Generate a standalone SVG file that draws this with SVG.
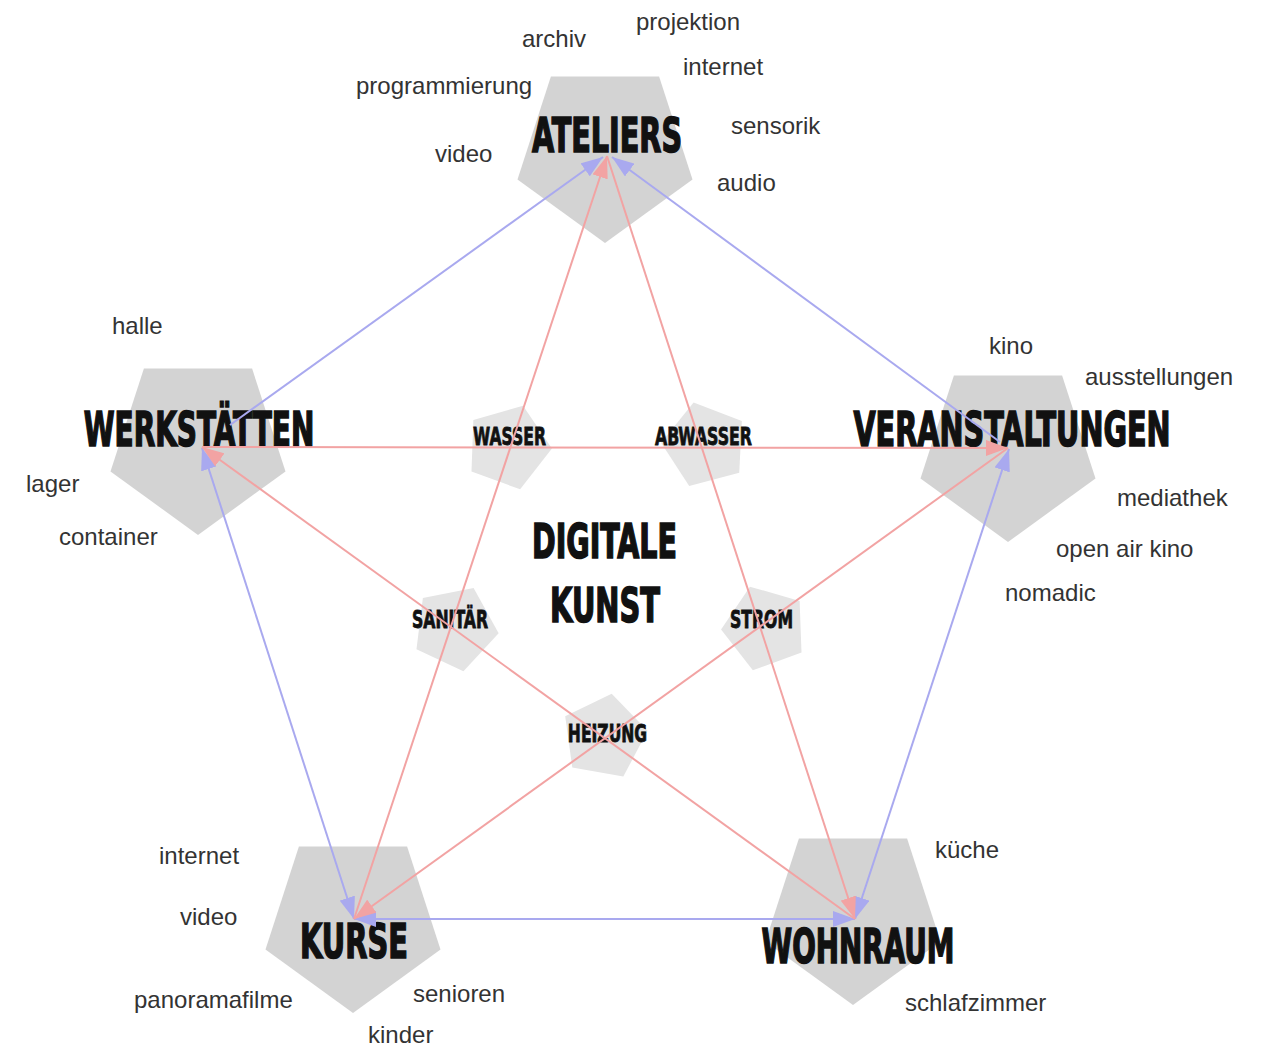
<svg xmlns="http://www.w3.org/2000/svg" width="1261" height="1051" viewBox="0 0 1261 1051">
<defs>
<style>
.big{fill:#d3d3d3}
.small{fill:#e4e4e4}
.h{font-family:"Liberation Sans Narrow","DejaVu Sans Condensed","Liberation Sans",sans-serif;font-weight:bold;fill:#111;stroke:#111;text-anchor:middle}
.h1{font-size:48px;stroke-width:1.6px}
.h2{font-size:25px;stroke-width:0.8px}
.t{font-family:"Liberation Sans","Arial",sans-serif;font-size:24px;fill:#333}
.blue{stroke:#a9a9ef;stroke-width:2;fill:none}
.red{stroke:#f2a3a3;stroke-width:2;fill:none}
</style>
<polygon id="pent" points="0,92 87.5,28.4 54.1,-74.4 -54.1,-74.4 -87.5,28.4"/>
<polygon id="spent" points="0,-44 41.8,-13.6 25.9,35.6 -25.9,35.6 -41.8,-13.6"/>
<marker id="ab" markerUnits="userSpaceOnUse" markerWidth="22" markerHeight="16" refX="22" refY="8" orient="auto-start-reverse"><path d="M0,0 L22,8 L0,16 z" fill="#a9a9ef"/></marker>
<marker id="ar" markerUnits="userSpaceOnUse" markerWidth="22" markerHeight="16" refX="22" refY="8" orient="auto-start-reverse"><path d="M0,0 L22,8 L0,16 z" fill="#f2a3a3"/></marker>
</defs>
<rect width="1261" height="1051" fill="#fff"/>

<g id="node-wasser"><use href="#spent" class="small" transform="translate(508,447) rotate(20)"/><text class="h h2" transform="translate(509.5,445) scale(0.65,1)" textLength="112" lengthAdjust="spacingAndGlyphs">WASSER</text></g>
<g id="node-abwasser"><use href="#spent" class="small" transform="translate(705,445) rotate(-15)"/><text class="h h2" transform="translate(703.5,445) scale(0.65,1)" textLength="149" lengthAdjust="spacingAndGlyphs">ABWASSER</text></g>
<g id="node-sanitaer"><use href="#spent" class="small" transform="translate(455,628) rotate(25)"/><text class="h h2" transform="translate(450,628) scale(0.65,1)" textLength="117" lengthAdjust="spacingAndGlyphs">SANITÄR</text></g>
<g id="node-strom"><use href="#spent" class="small" transform="translate(765,628) rotate(-20)"/><text class="h h2" transform="translate(761.5,628) scale(0.65,1)" textLength="97" lengthAdjust="spacingAndGlyphs">STROM</text></g>
<g id="node-heizung"><use href="#spent" class="small" transform="translate(604,737) rotate(10)"/><text class="h h2" transform="translate(607.5,742) scale(0.65,1)" textLength="122" lengthAdjust="spacingAndGlyphs">HEIZUNG</text></g>

<g id="node-digitale-kunst">
<text class="h h1" transform="translate(604.5,558) scale(0.65,1)" font-size="49" textLength="223" lengthAdjust="spacingAndGlyphs">DIGITALE</text>
<text class="h h1" transform="translate(605,622) scale(0.65,1)" font-size="50" textLength="169" lengthAdjust="spacingAndGlyphs">KUNST</text>
</g>

<g id="node-ateliers">
<use href="#pent" class="big" transform="translate(605,151)"/>
<text class="h h1" transform="translate(607,152) scale(0.65,1)" textLength="231" lengthAdjust="spacingAndGlyphs">ATELIERS</text>
<text class="t" x="522" y="47">archiv</text>
<text class="t" x="636" y="30">projektion</text>
<text class="t" x="683" y="75">internet</text>
<text class="t" x="356" y="94">programmierung</text>
<text class="t" x="731" y="134">sensorik</text>
<text class="t" x="435" y="162">video</text>
<text class="t" x="717" y="191">audio</text>
</g>

<g id="node-werkstaetten">
<use href="#pent" class="big" transform="translate(198,443)"/>
<text class="h h1" transform="translate(199,446) scale(0.65,1)" textLength="355" lengthAdjust="spacingAndGlyphs">WERKSTÄTTEN</text>
<text class="t" x="112" y="334">halle</text>
<text class="t" x="26" y="492">lager</text>
<text class="t" x="59" y="545">container</text>
</g>

<g id="node-veranstaltungen">
<use href="#pent" class="big" transform="translate(1008,450)"/>
<text class="h h1" transform="translate(1012,446) scale(0.65,1)" textLength="488" lengthAdjust="spacingAndGlyphs">VERANSTALTUNGEN</text>
<text class="t" x="989" y="354">kino</text>
<text class="t" x="1085" y="385">ausstellungen</text>
<text class="t" x="1117" y="506">mediathek</text>
<text class="t" x="1056" y="557">open air kino</text>
<text class="t" x="1005" y="601">nomadic</text>
</g>

<g id="node-kurse">
<use href="#pent" class="big" transform="translate(353,921)"/>
<text class="h h1" transform="translate(354,958) scale(0.65,1)" font-size="49" textLength="166" lengthAdjust="spacingAndGlyphs">KURSE</text>
<text class="t" x="159" y="864">internet</text>
<text class="t" x="180" y="925">video</text>
<text class="t" x="134" y="1008">panoramafilme</text>
<text class="t" x="413" y="1002">senioren</text>
<text class="t" x="368" y="1043">kinder</text>
</g>

<g id="node-wohnraum">
<use href="#pent" class="big" transform="translate(853,913)"/>
<text class="h h1" transform="translate(858,963) scale(0.65,1)" font-size="49" textLength="297" lengthAdjust="spacingAndGlyphs">WOHNRAUM</text>
<text class="t" x="935" y="858">küche</text>
<text class="t" x="905" y="1011">schlafzimmer</text>
</g>

<g id="connectors">
<line class="blue" x1="230" y1="425" x2="603" y2="157" marker-end="url(#ab)"/>
<line class="blue" x1="1000" y1="442" x2="612" y2="157" marker-end="url(#ab)"/>
<line class="blue" x1="202" y1="448" x2="354" y2="919" marker-start="url(#ab)" marker-end="url(#ab)"/>
<line class="blue" x1="354" y1="919" x2="855" y2="919" marker-start="url(#ab)" marker-end="url(#ab)"/>
<line class="blue" x1="1009" y1="449" x2="855" y2="919" marker-start="url(#ab)" marker-end="url(#ab)"/>
<line class="red" x1="354" y1="919" x2="607" y2="156" marker-end="url(#ar)"/>
<line class="red" x1="607" y1="156" x2="855" y2="919" marker-end="url(#ar)"/>
<line class="red" x1="855" y1="919" x2="202" y2="447" marker-end="url(#ar)"/>
<line class="red" x1="202" y1="447" x2="1008" y2="448" marker-end="url(#ar)"/>
<line class="red" x1="1008" y1="448" x2="354" y2="919" marker-end="url(#ar)"/>
</g>
</svg>
